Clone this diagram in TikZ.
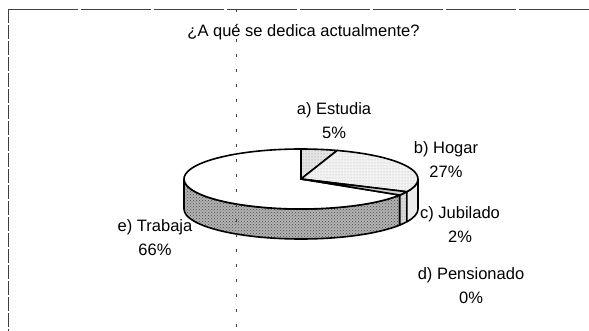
\documentclass[tikz,border=0pt]{standalone}
\usepackage{fontspec}
\setmainfont{Liberation Sans}
\usetikzlibrary{patterns}
\begin{document}
\begin{tikzpicture}[x=1pt,y=1pt,
    lbl/.style={align=center,font=\fontsize{16.5}{24}\selectfont},
    rim/.style={draw=black,line width=1.6pt,line join=round},
    scanline/.style={draw=black!75,line width=0.8pt}]
    \useasboundingbox (0,0) rectangle (589,-331);
    \fill[white] (0,0) rectangle (589,-331);

    \coordinate (c) at (301,-179);

    \draw[rim,preaction={fill=gray!60},pattern=crosshatch dots,pattern color=black!70] (c) ++(-32.4:117 and 30) arc[start angle=-32.4,end angle=-180,x radius=117,y radius=30] -- ++(0,-30) arc[start angle=-180,end angle=-32.4,x radius=117,y radius=30] -- cycle;
    \draw[rim,preaction={fill=gray!30},pattern=dots,pattern color=black!50] (c) ++(-25.2:117 and 30) arc[start angle=-25.2,end angle=-32.4,x radius=117,y radius=30] -- ++(0,-30) arc[start angle=-32.4,end angle=-25.2,x radius=117,y radius=30] -- cycle;
    \draw[rim,fill=gray!15] (c) ++(0:117 and 30) arc[start angle=0,end angle=-25.2,x radius=117,y radius=30] -- ++(0,-30) arc[start angle=-25.2,end angle=0,x radius=117,y radius=30] -- cycle;

    \draw[rim,fill=white] (c) -- ++(-32.4:117 and 30) arc[start angle=-32.4,end angle=-270,x radius=117,y radius=30] -- cycle;
    \draw[rim,preaction={fill=gray!20},pattern=dots,pattern color=black!45] (c) -- ++(90:117 and 30) arc[start angle=90,end angle=72,x radius=117,y radius=30] -- cycle;
    \draw[rim,preaction={fill=gray!10},pattern=dots,pattern color=black!30] (c) -- ++(72:117 and 30) arc[start angle=72,end angle=-25.2,x radius=117,y radius=30] -- cycle;
    \draw[rim,fill=gray!35] (c) -- ++(-25.2:117 and 30) arc[start angle=-25.2,end angle=-32.4,x radius=117,y radius=30] -- cycle;

    \node[font=\fontsize{16.5}{20}\selectfont] (titulo) at (303.5,-32) {¿A qué se dedica actualmente?};
    \node[lbl] (estudia) at (334,-121) {a) Estudia\\5\%};
    \node[lbl] (hogar) at (446,-160) {b) Hogar\\27\%};
    \node[lbl] (jubilado) at (460,-225) {c) Jubilado\\2\%};
    \node[lbl] (pensionado) at (471,-286) {d) Pensionado\\0\%};
    \node[lbl] (trabaja) at (155,-238) {e) Trabaja\\66\%};

    \draw[scanline,dash pattern=on 70pt off 3pt] (8,-9) -- (589,-9);
    \draw[scanline,dash pattern=on 14pt off 2pt] (8,-9) -- (8,-331);
    \draw[scanline,dash pattern=on 3pt off 12pt] (236,-9) -- (236,-331);
\end{tikzpicture}
\end{document}
